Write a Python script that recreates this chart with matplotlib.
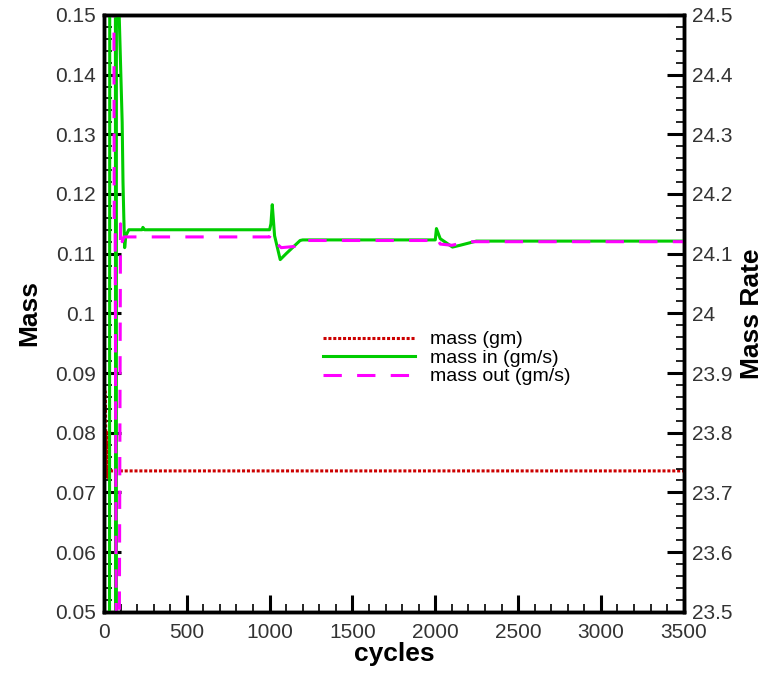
import matplotlib
matplotlib.use("Agg")
import matplotlib.pyplot as plt
from matplotlib.ticker import MultipleLocator

plt.rcParams['font.family'] = ['Liberation Sans', 'DejaVu Sans']

# mass (gm), left axis
mass_cycles = [0, 8, 14, 18, 24, 30, 40, 3500]
mass_vals = [0.0869, 0.0869, 0.0724, 0.0800, 0.0725, 0.0736, 0.0736, 0.0736]

# mass in (gm/s), right axis
in_cycles = [0, 33, 36, 68, 71, 74, 76, 88, 92, 100, 110, 115, 120, 125, 132,
             150, 230, 235, 245, 1000, 1008, 1016, 1030, 1064, 1100, 1184, 1200,
             2000, 2007, 2030, 2104, 2150, 2248, 3500]
in_vals = [23.0, 23.0, 25.5, 25.5, 23.0, 23.0, 25.5, 25.5, 24.50, 24.42, 24.32,
           24.22, 24.16, 24.11, 24.13, 24.140, 24.140, 24.144, 24.140, 24.140,
           24.150, 24.182, 24.130, 24.090, 24.100, 24.122, 24.123, 24.123, 24.142,
           24.125, 24.111, 24.114, 24.121, 24.121]

# mass out (gm/s), right axis
out_cycles = [0, 55, 62, 68, 78, 88, 100, 110, 120, 150, 1000, 1010, 1030,
              1070, 1150, 1190, 2000, 2010, 2030, 2100, 2200, 3500]
out_vals = [25.5, 25.5, 24.14, 24.14, 23.0, 23.0, 24.15, 24.12, 24.128, 24.128,
            24.128, 24.133, 24.120, 24.110, 24.112, 24.122, 24.122, 24.126,
            24.116, 24.114, 24.120, 24.120]

fig = plt.figure(figsize=(7.7, 6.76), dpi=100)
ax = fig.add_axes([0.135, 0.095, 0.753, 0.883])
ax2 = ax.twinx()

l1, = ax.plot(mass_cycles, mass_vals, color='#cc0000', ls=(0, (1, 0.6)), lw=2.2,
              label='mass (gm)')
l2, = ax2.plot(in_cycles, in_vals, color='#00cc00', lw=2.2, label='mass in (gm/s)')
l3, = ax2.plot(out_cycles, out_vals, color='#ff00ff', lw=2.2, ls=(0, (6, 5)),
               label='mass out (gm/s)')

ax.set_xlim(0, 3500)
ax.set_ylim(0.05, 0.15)
ax2.set_ylim(23.5, 24.5)

ax.xaxis.set_major_locator(MultipleLocator(500))
ax.xaxis.set_minor_locator(MultipleLocator(100))
ax.yaxis.set_minor_locator(MultipleLocator(0.002))
ax2.yaxis.set_minor_locator(MultipleLocator(0.02))

ax.set_yticks([0.05 + 0.01 * i for i in range(11)])
ax.set_yticklabels(['0.05', '0.06', '0.07', '0.08', '0.09', '0.1', '0.11',
                    '0.12', '0.13', '0.14', '0.15'])
ax2.set_yticks([23.5 + 0.1 * i for i in range(11)])
ax2.set_yticklabels(['23.5', '23.6', '23.7', '23.8', '23.9', '24', '24.1',
                     '24.2', '24.3', '24.4', '24.5'])

for a in (ax, ax2):
    a.tick_params(which='major', direction='in', length=12, width=2.2,
                  labelsize=15, pad=6, labelcolor='#333333')
    a.tick_params(which='minor', direction='in', length=6, width=1.2)
    for s in a.spines.values():
        s.set_linewidth(2.5)
ax.tick_params(axis='x', pad=8)
ax.tick_params(top=False, right=False)
ax.tick_params(which='minor', top=False, right=False)

ax.set_xlabel('cycles', fontsize=19, fontweight='bold', labelpad=0)
ax.set_ylabel('Mass', fontsize=19, fontweight='bold', labelpad=10)
ax2.set_ylabel('Mass Rate', fontsize=19, fontweight='bold', labelpad=5)

ax2.legend(handles=[l1, l2, l3], loc='center left', bbox_to_anchor=(0.348, 0.425),
           frameon=False, fontsize=14, handlelength=4.7, labelspacing=0.05,
           handletextpad=0.8)

fig.savefig('out.png', dpi=100)
